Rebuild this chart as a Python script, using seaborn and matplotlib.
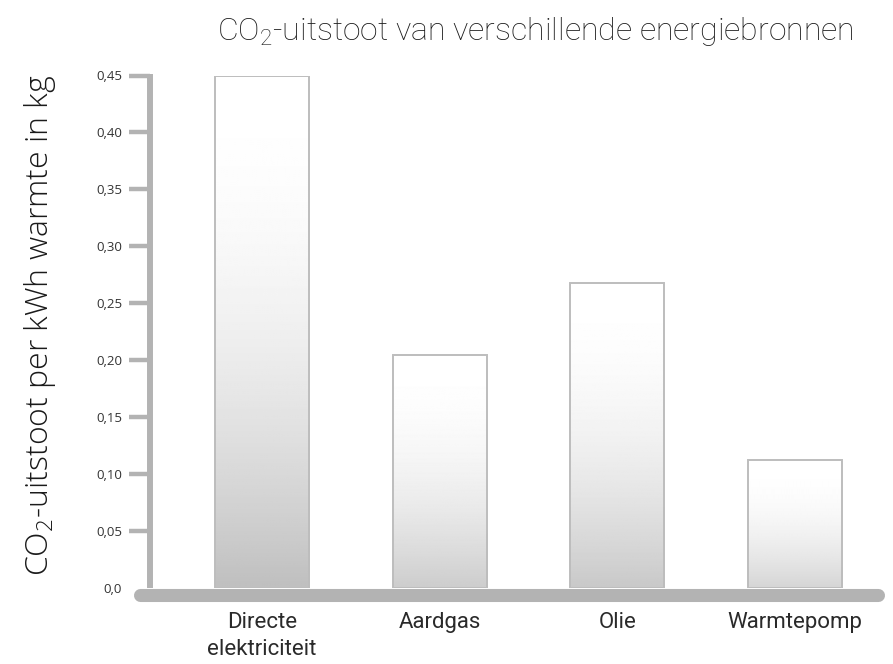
import matplotlib
matplotlib.use('Agg')
import matplotlib.pyplot as plt
import seaborn as sns
import numpy as np
import pandas as pd

# data
categories = ['Directe\nelektriciteit', 'Aardgas', 'Olie', 'Warmtepomp']
values = [0.45, 0.205, 0.268, 0.112]
yticks = [0, 0.05, 0.10, 0.15, 0.20, 0.25, 0.30, 0.35, 0.40, 0.45]
ytick_labels = ['0,0', '0,05', '0,10', '0,15', '0,20', '0,25', '0,30', '0,35', '0,40', '0,45']

sns.set_style('white')
plt.rcParams['font.family'] = ['Roboto', 'DejaVu Sans']
plt.rcParams['mathtext.default'] = 'regular'

axis_grey = '#b3b3b3'

fig = plt.figure(figsize=(8.93, 6.64), dpi=100)
ax = fig.add_axes([150 / 893, 76 / 664, 735 / 893, 512.5 / 664])

df = pd.DataFrame({'bron': categories, 'co2': values})
sns.barplot(data=df, x='bron', y='co2', ax=ax, width=0.53, color='white',
            errorbar=None, edgecolor='#bdbdbd', linewidth=1.4, zorder=3)

# gradient fill inside every bar (white top -> grey bottom)
for p in ax.patches:
    x0, w, h = p.get_x(), p.get_width(), p.get_height()
    amp = 0.25 * (h / max(values)) ** 0.3
    t = np.linspace(0, 1, 256)[:, None]
    grad = 1 - amp * t ** 2
    im = ax.imshow(grad, extent=[x0, x0 + w, 0, h], origin='upper', cmap='gray',
                   vmin=0, vmax=1, aspect='auto', zorder=2)
    im.set_clip_path(p)
    p.set_facecolor('none')

ax.set_xlim(-0.630, 3.506)
ax.set_ylim(0, 0.45)
sns.despine(ax=ax, left=True, bottom=True, top=True, right=True)

# thick rounded axes
ax.plot([-0.689, 3.468], [-0.00615, -0.00615], color=axis_grey, lw=9.4,
        solid_capstyle='round', clip_on=False, zorder=5)
ax.plot([-0.630, -0.630], [0, 0.4515], color=axis_grey, lw=4.3,
        solid_capstyle='butt', clip_on=False, zorder=5)

ax.set_yticks(yticks)
ax.set_yticklabels(ytick_labels, fontfamily='Open Sans')
ax.tick_params(axis='y', left=True, length=15, width=3.2, color=axis_grey, pad=5,
               labelsize=9.5, labelcolor='#333333')
ax.yaxis.get_major_ticks()[0].tick1line.set_visible(False)
ax.tick_params(axis='x', bottom=False, length=0, pad=17, labelsize=16, labelcolor='#2a2a2a')
for lab in ax.get_xticklabels():
    lab.set_linespacing(1.42)
ax.set_xlabel('')
ax.set_ylabel('')

fig.text(535 / 893, 1 - 31 / 664, 'CO$_2$-uitstoot van verschillende energiebronnen',
         ha='center', va='center', fontsize=23, color='#1a1a1a', fontweight='light')
fig.text(40 / 893, 1 - 325 / 664, 'CO$_2$-uitstoot per kWh warmte in kg',
         ha='center', va='center', rotation=90, fontsize=23, color='#1a1a1a',
         family=['Open Sans', 'DejaVu Sans'], fontweight='light')

fig.savefig('out.png', dpi=100, facecolor='white')
